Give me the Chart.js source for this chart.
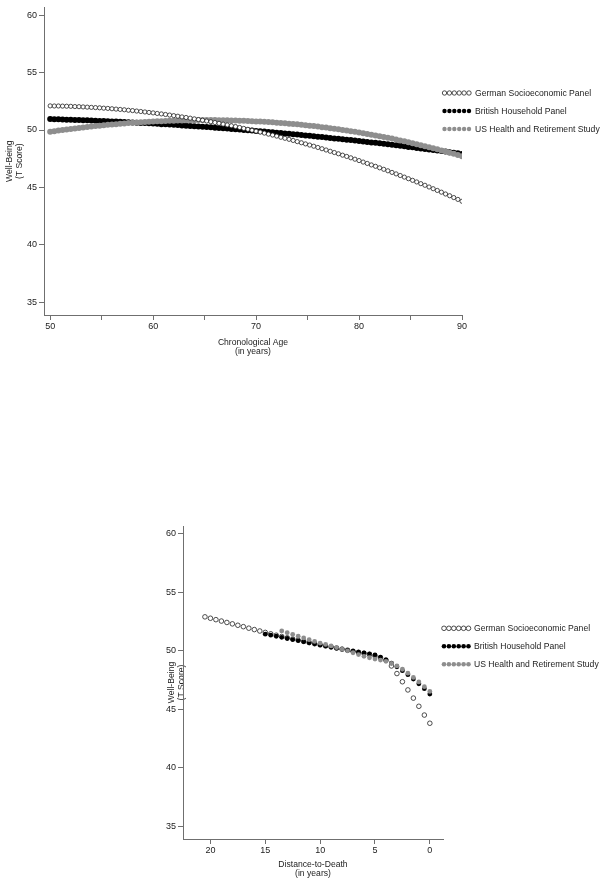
<!DOCTYPE html>
<html><head><meta charset="utf-8">
<script src="https://cdn.jsdelivr.net/npm/chart.js@4.4.0/dist/chart.umd.min.js"></script>
<style>
html,body{margin:0;padding:0;background:#fff;width:605px;height:886px;overflow:hidden}
.box{position:absolute;left:0;width:605px}
canvas{display:block}
</style></head><body>
<div class="box" style="top:0;height:370px"><canvas id="c1" width="605" height="370"></canvas></div>
<div class="box" style="top:500px;height:386px"><canvas id="c2" width="605" height="386"></canvas></div>
<script>
const seriesNames = ["German Socioeconomic Panel","British Household Panel","US Health and Retirement Study"];

// ---- Top panel: chronological age ----
const ageYears = [50,50.4,50.8,51.2,51.6,52,52.4,52.8,53.2,53.6,54,54.4,54.8,55.2,55.6,56,56.4,56.8,57.2,57.6,58,58.4,58.8,59.2,59.6,60,60.4,60.8,61.2,61.6,62,62.4,62.8,63.2,63.6,64,64.4,64.8,65.2,65.6,66,66.4,66.8,67.2,67.6,68,68.4,68.8,69.2,69.6,70,70.4,70.8,71.2,71.6,72,72.4,72.8,73.2,73.6,74,74.4,74.8,75.2,75.6,76,76.4,76.8,77.2,77.6,78,78.4,78.8,79.2,79.6,80,80.4,80.8,81.2,81.6,82,82.4,82.8,83.2,83.6,84,84.4,84.8,85.2,85.6,86,86.4,86.8,87.2,87.6,88,88.4,88.8,89.2,89.6,90];
const ageGerman = [52.10,52.09,52.09,52.08,52.07,52.06,52.04,52.03,52.01,51.99,
51.97,51.95,51.93,51.90,51.88,51.85,51.82,51.79,51.76,51.72,
51.69,51.65,51.61,51.57,51.53,51.49,51.44,51.40,51.35,51.30,
51.25,51.20,51.14,51.09,51.03,50.97,50.91,50.85,50.78,50.72,
50.65,50.58,50.51,50.44,50.37,50.30,50.22,50.14,50.06,49.98,
49.90,49.82,49.73,49.64,49.56,49.47,49.37,49.28,49.19,49.09,
48.99,48.89,48.79,48.69,48.59,48.48,48.37,48.26,48.15,48.04,
47.93,47.81,47.70,47.58,47.46,47.34,47.21,47.09,46.96,46.84,
46.71,46.58,46.45,46.31,46.18,46.04,45.90,45.76,45.62,45.48,
45.33,45.19,45.04,44.89,44.74,44.59,44.43,44.28,44.12,43.96,
43.80];
const ageBritish = [50.95,50.94,50.93,50.92,50.90,50.89,50.88,50.86,50.85,50.84,
50.82,50.81,50.79,50.78,50.76,50.74,50.73,50.71,50.69,50.67,
50.65,50.64,50.62,50.60,50.58,50.56,50.54,50.51,50.49,50.47,
50.45,50.43,50.40,50.38,50.35,50.33,50.31,50.28,50.26,50.23,
50.20,50.18,50.15,50.12,50.09,50.07,50.04,50.01,49.98,49.95,
49.92,49.89,49.86,49.83,49.80,49.76,49.73,49.70,49.67,49.63,
49.60,49.56,49.53,49.49,49.46,49.42,49.39,49.35,49.31,49.27,
49.24,49.20,49.16,49.12,49.08,49.04,49.00,48.96,48.92,48.88,
48.84,48.80,48.75,48.71,48.67,48.62,48.58,48.53,48.49,48.44,
48.40,48.35,48.31,48.26,48.21,48.17,48.12,48.07,48.02,47.97,
47.92];
const ageUS = [49.85,49.90,49.95,50.00,50.05,50.09,50.14,50.18,50.22,50.26,
50.30,50.34,50.38,50.41,50.45,50.48,50.51,50.54,50.57,50.60,
50.63,50.65,50.67,50.70,50.72,50.74,50.76,50.77,50.79,50.80,
50.81,50.82,50.83,50.84,50.85,50.85,50.86,50.86,50.86,50.86,
50.86,50.85,50.85,50.84,50.83,50.82,50.81,50.80,50.79,50.77,
50.75,50.73,50.71,50.69,50.67,50.64,50.61,50.58,50.55,50.52,
50.49,50.45,50.42,50.38,50.34,50.30,50.25,50.21,50.16,50.11,
50.06,50.01,49.95,49.90,49.84,49.78,49.72,49.66,49.59,49.53,
49.46,49.39,49.32,49.25,49.17,49.09,49.02,48.94,48.85,48.77,
48.68,48.59,48.50,48.41,48.32,48.22,48.13,48.03,47.93,47.82,
47.72];
const ageTicks = [50,55,60,65,70,75,80,85,90];
const ageTickLabels = ["50","","60","","70","","80","","90"];

// ---- Bottom panel: distance to death ----
const dtdGermanYears = [20.5,20,19.5,19,18.5,18,17.5,17,16.5,16,15.5,15,14.5,14,13.5,13,12.5,12,11.5,11,10.5,10,9.5,9,8.5,8,7.5,7,6.5,6,5.5,5,4.5,4,3.5,3,2.5,2,1.5,1,0.5,0];
const dtdGerman = [52.90,52.78,52.66,52.54,52.42,52.30,52.18,52.06,51.93,51.81,51.69,51.57,51.45,51.33,51.22,51.11,51.00,50.90,50.80,50.70,50.60,50.50,50.41,50.32,50.23,50.14,50.05,49.96,49.87,49.78,49.68,49.56,49.40,49.20,48.70,48.05,47.35,46.65,45.95,45.25,44.50,43.80];
const dtdBritishYears = [15,14.5,14,13.5,13,12.5,12,11.5,11,10.5,10,9.5,9,8.5,8,7.5,7,6.5,6,5.5,5,4.5,4,3.5,3,2.5,2,1.5,1,0.5,0];
const dtdBritish = [51.42,51.33,51.24,51.15,51.05,50.96,50.87,50.78,50.68,50.59,50.50,50.41,50.32,50.22,50.13,50.04,49.96,49.88,49.81,49.74,49.64,49.46,49.22,48.95,48.63,48.30,47.95,47.58,47.18,46.76,46.30];
const dtdUSYears = [13.5,13,12.5,12,11.5,11,10.5,10,9.5,9,8.5,8,7.5,7,6.5,6,5.5,5,4.5,4,3.5,3,2.5,2,1.5,1,0.5,0];
const dtdUS = [51.70,51.55,51.40,51.25,51.10,50.95,50.80,50.66,50.54,50.41,50.27,50.13,49.99,49.83,49.67,49.52,49.40,49.29,49.20,49.10,48.92,48.70,48.42,48.08,47.72,47.33,46.93,46.52];
const dtdTicks = [20,15,10,5,0];
const dtdTickLabels = ["20","15","10","5","0"];

const yTicks = [35,40,45,50,55,60];
const yTickLabels = ["35","40","45","50","55","60"];

const FONT = "'Liberation Sans', Arial, Helvetica, sans-serif";
const AXIS = '#6f6f6f';
const TXT = '#222';
const GRAY = '#8e8e8e';

function pts(xs, ys){ return xs.map((x,i)=>({x:x, y:ys[i]})); }

const stataLegend = {
  id:'stataLegend',
  afterDraw(chart, args, o){
    const ctx = chart.ctx;
    ctx.save();
    ctx.font = o.fontSize + 'px ' + FONT;
    ctx.textBaseline = 'middle';
    ctx.textAlign = 'left';
    chart.data.datasets.forEach((ds,i)=>{
      const y = o.y0 + i*o.dy;
      for(let k=0;k<6;k++){
        const x = o.x0 + k*o.dx;
        ctx.beginPath();
        ctx.arc(x, y, o.r, 0, Math.PI*2);
        ctx.fillStyle = ds.pointBackgroundColor;
        ctx.fill();
        if (ds.pointBorderWidth > 0){
          ctx.lineWidth = ds.pointBorderWidth;
          ctx.strokeStyle = ds.pointBorderColor;
          ctx.stroke();
        }
      }
      ctx.fillStyle = TXT;
      ctx.fillText(ds.label, o.textX, y + 0.5);
    });
    ctx.restore();
  }
};

function makeDatasets(sets, r){
  const styles = [
    {bg:'#ffffff', bc:'#222222', bw:0.8, r:r.open},
    {bg:'#000000', bc:'#000000', bw:0, r:r.fill},
    {bg:GRAY, bc:GRAY, bw:0, r:r.fill}
  ];
  return sets.map((d,i)=>({
    label: seriesNames[i],
    data: d,
    order: r.order[i],
    showLine:false,
    pointRadius: styles[i].r,
    pointHoverRadius: styles[i].r,
    pointBackgroundColor: styles[i].bg,
    pointBorderColor: styles[i].bc,
    pointBorderWidth: styles[i].bw,
    clip: r.clip
  }));
}

function axisCommon(){
  return {
    grid:{display:true, drawOnChartArea:false, drawTicks:true, tickLength:5, color:AXIS, lineWidth:1},
    border:{display:true, color:AXIS, width:1}
  };
}

function buildChart(id, cfg){
  const xc = axisCommon(), yc = axisCommon();
  return new Chart(document.getElementById(id), {
    type:'scatter',
    data:{datasets: cfg.datasets},
    plugins:[stataLegend],
    options:{
      responsive:false, animation:false, devicePixelRatio:1,
      events:[],
      layout:{padding: cfg.padding},
      plugins:{legend:{display:false}, tooltip:{enabled:false}, stataLegend: cfg.legend},
      scales:{
        x:{
          type:'linear', min: cfg.xmin, max: cfg.xmax, reverse: !!cfg.reverse,
          afterFit(s){ s.height = cfg.xh; },
          afterBuildTicks(s){ s.ticks = cfg.xTicks.map(v=>({value:v})); },
          ticks:{autoSkip:false, maxRotation:0, padding:1, color:TXT, font:{family:FONT,size:9},
                 callback:(v,i)=>cfg.xLabels[i]},
          grid: xc.grid, border: xc.border,
          title:{display:true, text:cfg.xTitle, color:TXT, padding:0, font:{family:FONT,size:8.6,lineHeight:1.15}}
        },
        y:{
          type:'linear', min:33.9, max:60.67,
          afterFit(s){ s.width = cfg.yw; },
          afterBuildTicks(s){ s.ticks = yTicks.map(v=>({value:v})); },
          ticks:{autoSkip:false, padding:2, color:TXT, font:{family:FONT,size:9},
                 callback:(v,i)=>yTickLabels[i]},
          grid: yc.grid, border: yc.border,
          title:{display:true, text:['Well-Being','(T Score)'], color:TXT, padding:{top:cfg.yTitlePad,bottom:0}, font:{family:FONT,size:8.6,lineHeight:1.15}}
        }
      }
    }
  });
}

buildChart('c1', {
  datasets: makeDatasets([pts(ageYears,ageGerman), pts(ageYears,ageBritish), pts(ageYears,ageUS)], {open:2.1, fill:3.0, order:[0,2,1], clip:{left:10,top:10,right:0,bottom:10}}),
  padding:{left:0, top:5, right:143, bottom:13},
  xmin:49.4, xmax:90, xh:42, yw:44, yTitlePad:5,
  xTicks: ageTicks, xLabels: ageTickLabels,
  xTitle:['Chronological Age','(in years)'],
  legend:{x0:444.5, dx:4.9, y0:93, dy:18, r:2.2, textX:475, fontSize:8.6}
});

buildChart('c2', {
  datasets: makeDatasets([pts(dtdGermanYears,dtdGerman), pts(dtdBritishYears,dtdBritish), pts(dtdUSYears,dtdUS)], {open:2.3, fill:2.4, order:[2,1,0], clip:false}),
  padding:{left:139, top:26, right:162, bottom:7},
  xmin:-1.2, xmax:22.5, reverse:true, xh:40, yw:44, yTitlePad:28,
  xTicks: dtdTicks, xLabels: dtdTickLabels,
  xTitle:['Distance-to-Death','(in years)'],
  legend:{x0:444, dx:4.9, y0:128.3, dy:18, r:2.3, textX:474, fontSize:8.6}
});
</script>
</body></html>
